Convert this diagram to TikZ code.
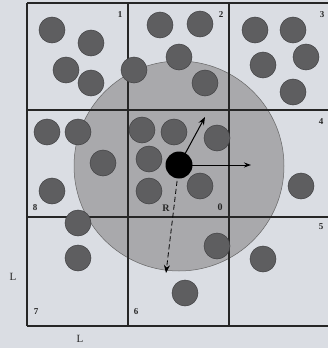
\documentclass[tikz,border=0pt]{standalone}
\usepackage{fontspec}
\setmainfont{Liberation Serif}
\usetikzlibrary{arrows.meta}
\definecolor{bgc}{HTML}{DADDE3}
\definecolor{bigc}{HTML}{A9A9AC}
\definecolor{partc}{HTML}{5E5E60}
\definecolor{partd}{HTML}{404042}
\begin{document}
\begin{tikzpicture}[x=1pt,y=-1pt,
  gridline/.style={line width=1.3pt,black!85},
  particle/.style={circle,minimum size=26pt,inner sep=0pt,fill=partc,draw=partd,line width=0.5pt},
  probe/.style={circle,minimum size=27pt,inner sep=0pt,fill=black},
  lbl/.style={font=\fontsize{9}{10}\selectfont\bfseries,inner sep=0pt,text=black!85},
  axlbl/.style={font=\fontsize{11}{12}\selectfont,inner sep=0pt,text=black!85},
  vec/.style={-{Stealth[length=8pt,width=6pt]},line width=1pt}]
\useasboundingbox (0,0) rectangle (328,348);
\fill[bgc] (0,0) rectangle (328,348);
% cutoff sphere
\node[circle,minimum size=210pt,inner sep=0pt,fill=bigc,draw=black!60,line width=0.5pt] (sphere) at (179,166) {};
% grid
\draw[gridline] (27,3) -- (328,3);
\draw[gridline] (27,110) -- (328,110);
\draw[gridline] (27,217) -- (328,217);
\draw[gridline] (27,326) -- (328,326);
\draw[gridline] (27,3) -- (27,326);
\draw[gridline] (128,3) -- (128,326);
\draw[gridline] (229,3) -- (229,326);
% particles
\node[particle] (p1) at (52,30) {};
\node[particle] (p2) at (91,43) {};
\node[particle] (p3) at (66,70) {};
\node[particle] (p4) at (91,83) {};
\node[particle] (p5) at (134,70) {};
\node[particle] (p6) at (160,25) {};
\node[particle] (p7) at (200,24) {};
\node[particle] (p8) at (179,57) {};
\node[particle] (p9) at (205,83) {};
\node[particle] (p10) at (255,30) {};
\node[particle] (p11) at (293,30) {};
\node[particle] (p12) at (306,57) {};
\node[particle] (p13) at (263,65) {};
\node[particle] (p14) at (293,92) {};
\node[particle] (p15) at (301,186) {};
\node[particle] (p16) at (263,259) {};
\node[particle] (p17) at (142,130) {};
\node[particle] (p18) at (174,132) {};
\node[particle] (p19) at (217,138) {};
\node[particle] (p20) at (149,159) {};
\node[particle] (p21) at (149,191) {};
\node[particle] (p22) at (200,186) {};
\node[particle] (p23) at (47,132) {};
\node[particle] (p24) at (78,132) {};
\node[particle] (p25) at (103,163) {};
\node[particle] (p26) at (52,191) {};
\node[particle] (p27) at (78,223) {};
\node[particle] (p28) at (78,258) {};
\node[particle] (p29) at (217,246) {};
\node[particle] (p30) at (185,293) {};
% probe particle and vectors
\node[probe] (c) at (179,165) {};
\coordinate (v1) at (205,117);
\coordinate (v2) at (251,165);
\coordinate (v3) at (166,273);
\draw[vec] (c.center) -- (v1);
\draw[vec,-{Stealth[length=7pt,width=5pt]}] (c.center) -- (v2);
\draw[vec,dash pattern=on 5pt off 3pt,line width=0.8pt] (c.center) -- (v3);
% labels
\node[lbl] (n1) at (120,15) {1};
\node[lbl] (n2) at (221,15) {2};
\node[lbl] (n3) at (322,15) {3};
\node[lbl] (n4) at (321,122) {4};
\node[lbl] (n5) at (321,227) {5};
\node[lbl] (n6) at (136,312) {6};
\node[lbl] (n7) at (36,312) {7};
\node[lbl] (n8) at (35,208) {8};
\node[lbl,font=\fontsize{10}{11}\selectfont\bfseries] (n0) at (220,207) {0};
\node[lbl,font=\fontsize{10}{11}\selectfont\bfseries] (nR) at (166,208) {R};
\node[axlbl] (Ly) at (13,277) {L};
\node[axlbl] (Lx) at (80,339) {L};
\end{tikzpicture}
\end{document}
